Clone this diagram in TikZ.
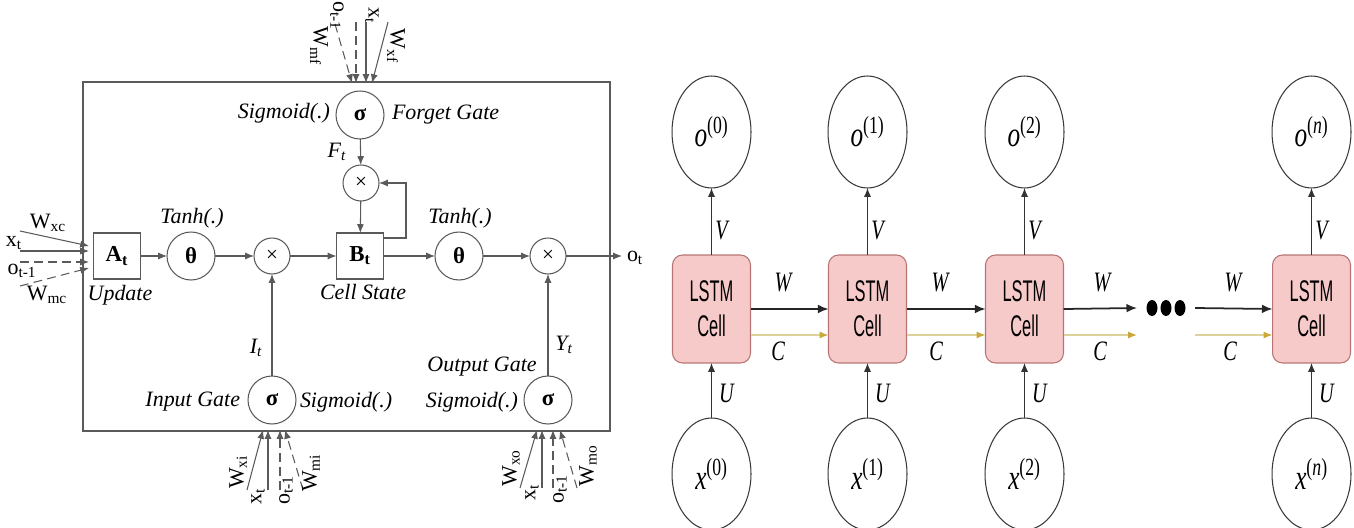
\documentclass[tikz,border=0pt]{standalone}
\usepackage{fontspec}
\usepackage{graphicx}
\setmainfont{Liberation Serif}
\setsansfont{Liberation Sans}
\usetikzlibrary{arrows.meta,shapes.geometric,calc}
\definecolor{lg}{HTML}{5A5A5A}
\definecolor{cellfill}{HTML}{F7CACA}
\definecolor{celldraw}{HTML}{B87474}
\definecolor{cline}{HTML}{DCD29A}
\definecolor{carrow}{HTML}{CBA83A}
\definecolor{ringc}{HTML}{3A3A3A}
\newcommand\sqz[1]{\scalebox{0.72}[1]{#1}}
\newcommand\sqc[1]{\scalebox{0.55}[1]{#1}}
\begin{document}
\begin{tikzpicture}[x=0.02cm,y=-0.02cm,
  every node/.style={inner sep=0pt,outer sep=0pt},
  lbl/.style={font=\fontsize{12.5}{14}\selectfont\itshape},
  rlbl/.style={font=\fontsize{12.5}{14}\selectfont},
  gate/.style={circle,draw=lg,line width=0.6pt,minimum size=0.96cm,font=\fontsize{13}{14}\selectfont\bfseries},
  mult/.style={circle,draw=lg,line width=0.6pt,minimum size=0.72cm,font=\fontsize{12}{14}\selectfont},
  blk/.style={rectangle,draw=lg,line width=0.6pt,minimum width=0.94cm,minimum height=0.92cm,font=\fontsize{13}{14}\selectfont\bfseries},
  flow/.style={draw=lg,line width=0.6pt,-{Latex[length=5pt,width=4pt]}},
  dflow/.style={flow,dash pattern=on 5pt off 3pt},
  ring/.style={ellipse,draw=ringc,line width=0.6pt,minimum width=1.58cm,minimum height=2.24cm,font=\fontsize{20}{22}\selectfont},
  cell/.style={rectangle,rounded corners=0.2cm,draw=celldraw,fill=cellfill,line width=0.6pt,minimum width=1.56cm,minimum height=2.16cm,align=center,font=\fontsize{17}{20}\selectfont\sffamily},
  varrow/.style={draw=black!80,line width=0.6pt,-{Latex[length=5pt,width=4pt]}},
  warrow/.style={draw=black!85,line width=1pt,-{Latex[length=6pt,width=5pt]}},
  carr/.style={draw=cline,line width=0.8pt,-{Latex[length=5pt,width=4pt,fill=carrow,color=carrow]}},
  rl/.style={font=\fontsize{16}{18}\selectfont\itshape},
  dotn/.style={ellipse,fill=black,minimum width=0.22cm,minimum height=0.32cm}
]
\useasboundingbox (0,0) rectangle (1354,527);

% ================= LEFT: LSTM cell =================
\draw[lg,line width=0.6pt] (83,82) rectangle (610,431);

\node[blk] (A) at (117,256) {A\textsubscript{t}};
\node[gate] (th1) at (191,256) {θ};
\node[mult] (m1) at (272,256) {×};
\node[blk] (B) at (360,256) {B\textsubscript{t}};
\node[gate] (th2) at (459,256) {θ};
\node[mult] (m2) at (548,256) {×};
\node[mult] (mf) at (361,183) {×};
\node[gate] (sf) at (360,115) {σ};
\node[gate] (si) at (272,400) {σ};
\node[gate] (so) at (548,400) {σ};
\coordinate (out) at (622,256);
\node[rlbl,anchor=west] (ot) at (627,258) {o\textsubscript{t}};
\coordinate (fb) at (406,183);

\draw[flow] (A) -- (th1);
\draw[flow] (th1) -- (m1);
\draw[flow] (m1) -- (B);
\draw[flow] (B) -- (th2);
\draw[flow] (th2) -- (m2);
\draw[flow] (m2) -- (out);
\draw[flow] (sf) -- (mf);
\draw[flow] (mf) -- (B);
\draw[flow] (si) -- (m1);
\draw[flow] (so) -- (m2);
\draw[flow] ($(B.north east)+(0,5)$) -| (fb) -- (mf.east);

% labels
\node[lbl] (tanh1) at (192,218) {Tanh(.)};
\node[lbl] (tanh2) at (460,218) {Tanh(.)};
\node[lbl,anchor=east] (sigf) at (330,113) {Sigmoid(.)};
\node[lbl,anchor=west] (fg) at (392,115) {Forget Gate};
\node[lbl] (Ft) at (337,152) {F\textsubscript{t}};
\node[lbl] (upd) at (120,295) {Update};
\node[lbl] (cs) at (363,292) {Cell State};
\node[lbl] (It) at (256,348) {I\textsubscript{t}};
\node[lbl] (Yt) at (564,345) {Y\textsubscript{t}};
\node[lbl,anchor=east] (ig) at (240,402) {Input Gate};
\node[lbl,anchor=west] (sigi) at (300,402) {Sigmoid(.)};
\node[lbl,anchor=east] (sigo) at (518,402) {Sigmoid(.)};
\node[lbl] (og) at (482,367) {Output Gate};

% inputs to A
\coordinate (a1s) at (20,231); \coordinate (a1e) at (89,246);
\coordinate (a2s) at (20,251); \coordinate (a2e) at (89,251);
\coordinate (a3s) at (20,262); \coordinate (a3e) at (89,262);
\coordinate (a4s) at (20,286); \coordinate (a4e) at (89,268);
\draw[flow] (a1s) -- (a1e);
\draw[flow] (a2s) -- (a2e);
\draw[dflow] (a3s) -- (a3e);
\draw[dflow] (a4s) -- (a4e);
\node[rlbl] (lwxc) at (48,223) {W\textsubscript{xc}};
\node[rlbl] (lxt1) at (14,243) {x\textsubscript{t}};
\node[rlbl] (lot1) at (22,271) {o\textsubscript{t-1}};
\node[rlbl] (lwmc) at (47,295) {W\textsubscript{mc}};

% inputs to forget gate (top)
\coordinate (f1s) at (335,24); \coordinate (f1e) at (352,83);
\coordinate (f2s) at (356,22); \coordinate (f2e) at (356,83);
\coordinate (f3s) at (366,22); \coordinate (f3e) at (366,83);
\coordinate (f4s) at (388,22); \coordinate (f4e) at (372,83);
\draw[dflow] (f1s) -- (f1e);
\draw[dflow] (f2s) -- (f2e);
\draw[flow] (f3s) -- (f3e);
\draw[flow] (f4s) -- (f4e);
\node[rlbl,rotate=-90] (lwmf) at (319,46) {W\textsubscript{mf}};
\node[rlbl,rotate=-90] (lotf) at (337,16) {o\textsubscript{t-1}};
\node[rlbl,rotate=-90] (lxtf) at (372,16) {x\textsubscript{t}};
\node[rlbl,rotate=-90] (lwxf) at (396,46) {W\textsubscript{xf}};

% inputs to input gate (bottom)
\coordinate (i1s) at (247,490); \coordinate (i1e) at (263,430);
\coordinate (i2s) at (268,490); \coordinate (i2e) at (268,430);
\coordinate (i3s) at (280,490); \coordinate (i3e) at (280,430);
\coordinate (i4s) at (303,490); \coordinate (i4e) at (285,430);
\draw[flow] (i1s) -- (i1e);
\draw[flow] (i2s) -- (i2e);
\draw[dflow] (i3s) -- (i3e);
\draw[dflow] (i4s) -- (i4e);
\node[rlbl,rotate=90] (lwxi) at (238,472) {W\textsubscript{xi}};
\node[rlbl,rotate=90] (lxti) at (258,496) {x\textsubscript{t}};
\node[rlbl,rotate=90] (loti) at (286,490) {o\textsubscript{t-1}};
\node[rlbl,rotate=90] (lwmi) at (311,473) {W\textsubscript{mi}};

% inputs to output gate (bottom)
\coordinate (o1s) at (520,488); \coordinate (o1e) at (537,430);
\coordinate (o2s) at (542,488); \coordinate (o2e) at (542,430);
\coordinate (o3s) at (553,488); \coordinate (o3e) at (553,430);
\coordinate (o4s) at (577,488); \coordinate (o4e) at (560,430);
\draw[flow] (o1s) -- (o1e);
\draw[flow] (o2s) -- (o2e);
\draw[dflow] (o3s) -- (o3e);
\draw[dflow] (o4s) -- (o4e);
\node[rlbl,rotate=90] (lwxo) at (511,468) {W\textsubscript{xo}};
\node[rlbl,rotate=90] (lxto) at (532,492) {x\textsubscript{t}};
\node[rlbl,rotate=90] (loto) at (560,489) {o\textsubscript{t-1}};
\node[rlbl,rotate=90] (lwmo) at (588,466) {W\textsubscript{mo}};

% ================= RIGHT: unrolled LSTM =================
\foreach \i/\cx/\s in {0/711.5/0,1/867.5/1,2/1024.5/2,n/1311.5/\textit{n}}{
  \node[ring] (o\i) at (\cx,132) {\sqz{\textit{o}\textsuperscript{(\s)}}};
  \node[cell] (c\i) at (\cx,309) {\sqc{LSTM}\\\sqc{Cell}};
  \node[ring] (x\i) at (\cx,474) {\sqz{\textit{x}\textsuperscript{(\s)}}};
  \draw[varrow] (c\i) -- (o\i);
  \draw[varrow] (x\i) -- (c\i);
  \node[rl] (V\i) at ($(\cx,231)+(10,0)$) {\sqz{V}};
  \node[rl] (U\i) at ($(\cx,393)+(15,0)$) {\sqz{U}};
}

\node[dotn] (d1) at (1152,308) {};
\node[dotn] (d2) at (1166,308) {};
\node[dotn] (d3) at (1180,308) {};
\coordinate (wend) at (1137,308);
\coordinate (wbeg) at (1195,308);
\coordinate (cend) at (1137,335);
\coordinate (cbeg) at (1195,335);

\draw[warrow] (c0.east) -- (c1.west);
\draw[warrow] (c1.east) -- (c2.west);
\draw[warrow] (c2.east) -- (wend);
\draw[warrow] (wbeg) -- (cn.west);

\draw[carr] ($(c0.east)+(0,26)$) -- ($(c1.west)+(0,26)$);
\draw[carr] ($(c1.east)+(0,26)$) -- ($(c2.west)+(0,26)$);
\draw[carr] ($(c2.east)+(0,26)$) -- (cend);
\draw[carr] (cbeg) -- ($(cn.west)+(0,26)$);

\node[rl] (W1) at (783,283) {\sqz{W}};
\node[rl] (W2) at (940,283) {\sqz{W}};
\node[rl] (W3) at (1102,283) {\sqz{W}};
\node[rl] (W4) at (1233,283) {\sqz{W}};
\node[rl] (C1) at (778,351) {\sqz{C}};
\node[rl] (C2) at (936,351) {\sqz{C}};
\node[rl] (C3) at (1100,351) {\sqz{C}};
\node[rl] (C4) at (1230,351) {\sqz{C}};
\end{tikzpicture}
\end{document}
